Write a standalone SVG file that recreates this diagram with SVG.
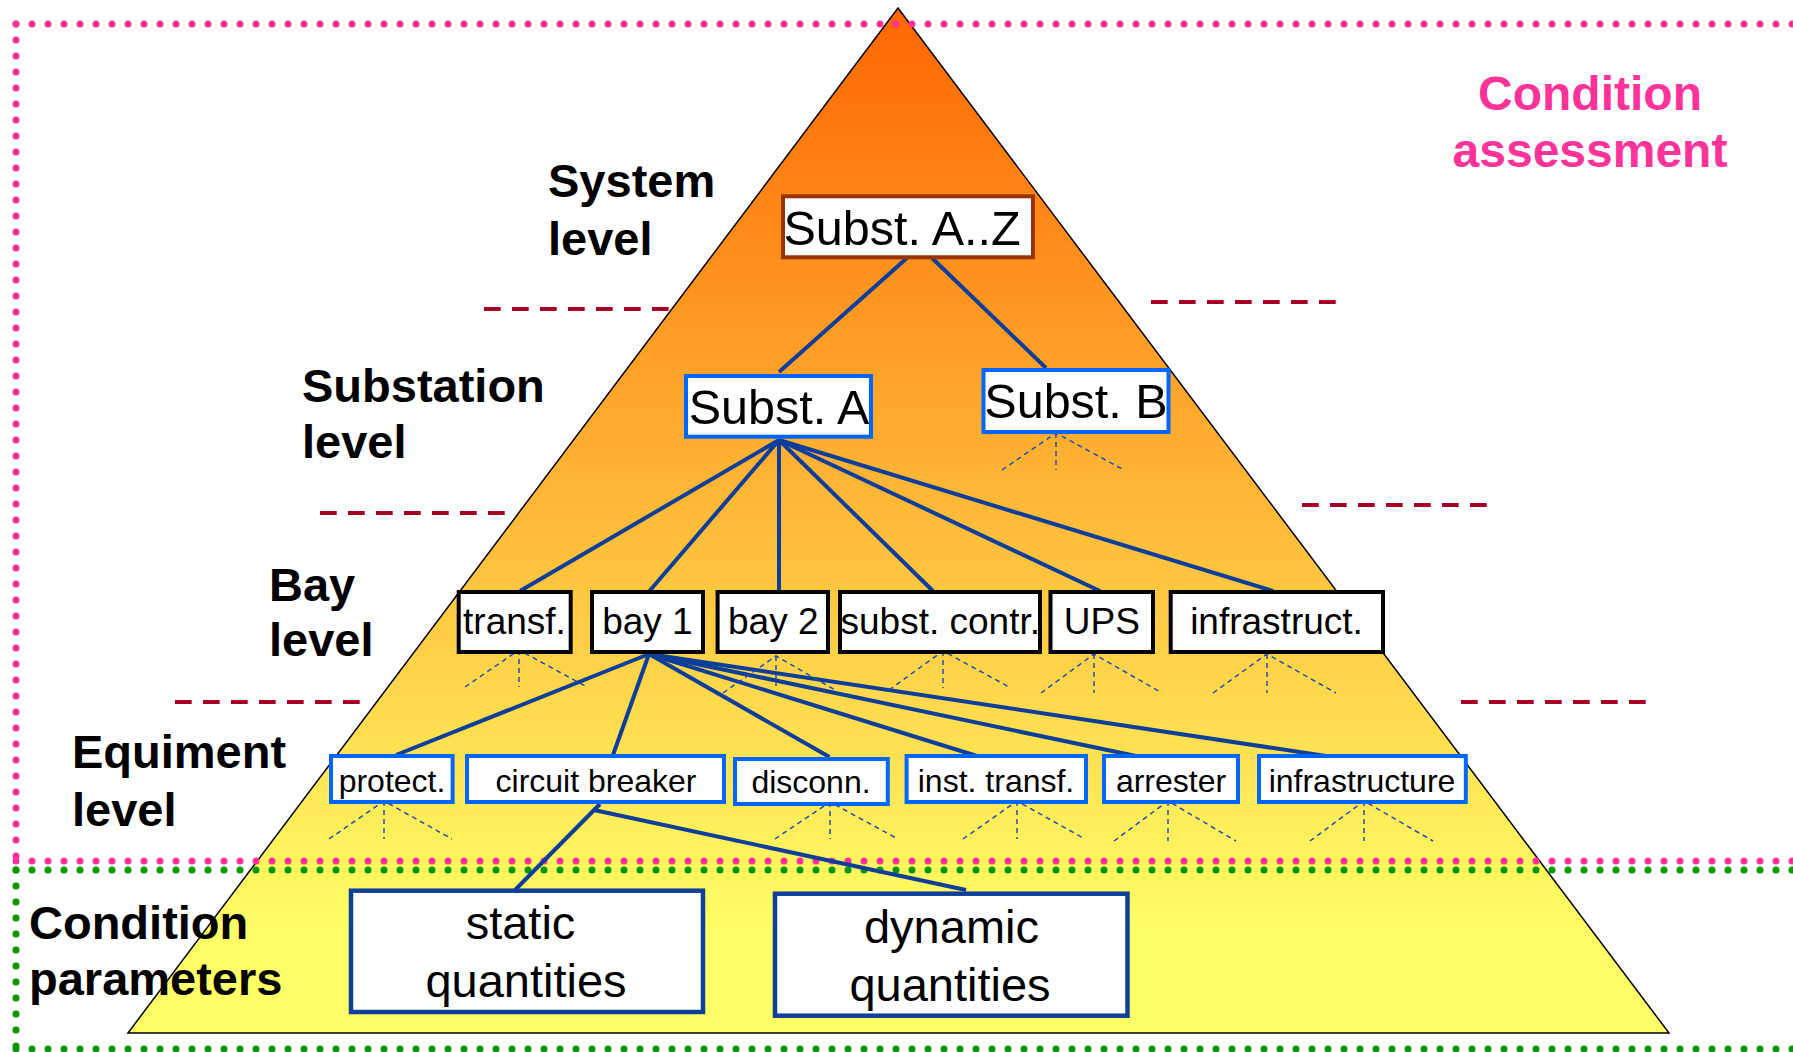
<svg xmlns="http://www.w3.org/2000/svg" width="1793" height="1052" viewBox="0 0 1793 1052">
<defs>
<linearGradient id="pyr" gradientUnits="userSpaceOnUse" x1="0" y1="8" x2="0" y2="1033">
<stop offset="0" stop-color="#FF6600"/>
<stop offset="0.9" stop-color="#FFFF66"/>
<stop offset="1" stop-color="#FFFF66"/>
</linearGradient>
<style>
.lvl{font-family:"Liberation Sans",Arial,sans-serif;font-weight:bold;font-size:47px;fill:#000}
.ca{font-family:"Liberation Sans",Arial,sans-serif;font-weight:bold;font-size:48px;fill:#FF3399;text-anchor:middle}
.t48{font-family:"Liberation Sans",Arial,sans-serif;font-size:48.5px;fill:#000;text-anchor:middle}
.t47{font-family:"Liberation Sans",Arial,sans-serif;font-size:47px;fill:#000;text-anchor:middle}
.t37{font-family:"Liberation Sans",Arial,sans-serif;font-size:37px;fill:#000;text-anchor:middle}
.t32{font-family:"Liberation Sans",Arial,sans-serif;font-size:32px;fill:#000;text-anchor:middle}
.sep{stroke:#A50026;stroke-width:4;stroke-dasharray:16.7 11.3;fill:none}
.pink{stroke:#FF3399;stroke-width:7;stroke-dasharray:0 16;stroke-linecap:round;fill:none}
.green{stroke:#009900;stroke-width:7;stroke-dasharray:0 16;stroke-linecap:round;fill:none}
.conn line{stroke:#0D3E99;stroke-width:4;stroke-linecap:butt}
.fan path{stroke:#1F4FB0;stroke-width:1.5;stroke-dasharray:5 4;fill:none}
.top{fill:#fff;stroke:#993300;stroke-width:4}
.sub{fill:#fff;stroke:#0066FF;stroke-width:4}
.bay{fill:#fff;stroke:#000;stroke-width:4}
.eq{fill:#fff;stroke:#0066FF;stroke-width:4}
.par{fill:#fff;stroke:#0F3F99;stroke-width:4.5}
</style>
</defs>
<rect width="1793" height="1052" fill="#fff"/>
<polygon points="898,8 1669,1033 128,1033" fill="url(#pyr)" stroke="#000" stroke-width="1.5"/>

<g id="separators">
<line class="sep" x1="484" y1="309" x2="669" y2="309"/>
<line class="sep" x1="1151" y1="302" x2="1336" y2="302"/>
<line class="sep" x1="320" y1="513" x2="505" y2="513"/>
<line class="sep" x1="1302" y1="505" x2="1487" y2="505"/>
<line class="sep" x1="175" y1="702" x2="360" y2="702"/>
<line class="sep" x1="1461" y1="702" x2="1646" y2="702"/>
</g>

<g id="condition-assessment-frame">
<line class="pink" x1="16" y1="24" x2="1800" y2="24"/>
<line class="pink" x1="16" y1="24" x2="16" y2="861"/>
<line class="pink" x1="16" y1="861" x2="1800" y2="861"/>
</g>
<g id="condition-parameters-frame">
<line class="green" x1="16" y1="870" x2="1800" y2="870"/>
<line class="green" x1="16" y1="870" x2="16" y2="1049"/>
<line class="green" x1="16" y1="1049" x2="1800" y2="1049"/>
</g>

<g id="labels">
<text class="lvl" x="548" y="197">System</text>
<text class="lvl" x="548" y="255">level</text>
<text class="lvl" x="302" y="402">Substation</text>
<text class="lvl" x="302" y="458">level</text>
<text class="lvl" x="269" y="601">Bay</text>
<text class="lvl" x="269" y="656">level</text>
<text class="lvl" x="72" y="768">Equiment</text>
<text class="lvl" x="72" y="826">level</text>
<text class="lvl" x="29" y="939">Condition</text>
<text class="lvl" x="29" y="995">parameters</text>
<text class="ca" x="1590" y="110">Condition</text>
<text class="ca" x="1590" y="167">assessment</text>
</g>

<g id="connectors" class="conn">
<line x1="907" y1="258" x2="779" y2="372"/>
<line x1="932" y1="258" x2="1046" y2="368"/>
<line x1="779" y1="440" x2="520" y2="591"/>
<line x1="779" y1="440" x2="649.5" y2="591"/>
<line x1="779" y1="440" x2="779" y2="591"/>
<line x1="779" y1="440" x2="933" y2="591"/>
<line x1="779" y1="440" x2="1100" y2="591"/>
<line x1="779" y1="440" x2="1273" y2="591"/>
<line x1="649" y1="654" x2="396" y2="755"/>
<line x1="649" y1="654" x2="613" y2="755"/>
<line x1="649" y1="654" x2="829.5" y2="757"/>
<line x1="649" y1="654" x2="977" y2="756"/>
<line x1="649" y1="654" x2="1136" y2="756"/>
<line x1="649" y1="654" x2="1326" y2="756"/>
<line x1="600" y1="804" x2="515" y2="890"/>
<line x1="594" y1="810" x2="966" y2="890"/>
</g>

<g id="sub-fans" class="fan">
<path d="M1002,470 L1056,433 L1124,470 M1056,433 V470"/>
<path d="M465,687 L519,650 L587,687 M519,650 V687"/>
<path d="M723,693 L776,656 L837,691 M776,656 V686"/>
<path d="M889,690 L943,651 L1011,688 M943,651 V688"/>
<path d="M1041,693 L1094,654 L1162,693 M1094,654 V693"/>
<path d="M1213,693 L1267,654 L1336,693 M1267,654 V693"/>
<path d="M329,839 L384,801 L452,839 M384,801 V839"/>
<path d="M775,839 L830,802 L898,839 M830,802 V839"/>
<path d="M963,839 L1017,801 L1085,839 M1017,801 V839"/>
<path d="M1114,841 L1168,801 L1236,841 M1168,801 V841"/>
<path d="M1310,841 L1364,801 L1433,841 M1364,801 V841"/>
</g>

<g id="node-subst-az"><rect class="top" x="783" y="196.3" width="250" height="61"/><text class="t48" x="902" y="245">Subst. A..Z</text></g>
<g id="node-subst-a"><rect class="sub" x="686" y="376" width="185" height="60.7"/><text class="t48" x="779" y="424">Subst. A</text></g>
<g id="node-subst-b"><rect class="sub" x="983.5" y="370" width="185" height="62"/><text class="t48" x="1076" y="418">Subst. B</text></g>

<g id="node-transf"><rect class="bay" x="458.7" y="592" width="112" height="60"/><text class="t37" x="514.5" y="634">transf.</text></g>
<g id="node-bay1"><rect class="bay" x="592" y="592" width="111" height="60"/><text class="t37" x="647.4" y="634">bay 1</text></g>
<g id="node-bay2"><rect class="bay" x="717.6" y="592" width="110.4" height="60"/><text class="t37" x="773.3" y="634">bay 2</text></g>
<g id="node-subst-contr"><rect class="bay" x="840" y="592" width="200" height="60"/><text class="t37" x="940.3" y="634">subst. contr.</text></g>
<g id="node-ups"><rect class="bay" x="1050.5" y="592" width="102.5" height="60"/><text class="t37" x="1101.8" y="634">UPS</text></g>
<g id="node-infrastruct"><rect class="bay" x="1170.7" y="592" width="212.3" height="60"/><text class="t37" x="1276.5" y="634">infrastruct.</text></g>

<g id="node-protect"><rect class="eq" x="331" y="756" width="121.6" height="46"/><text class="t32" x="392" y="792">protect.</text></g>
<g id="node-circuit-breaker"><rect class="eq" x="467" y="756" width="257" height="46"/><text class="t32" x="596" y="792">circuit breaker</text></g>
<g id="node-disconn"><rect class="eq" x="735" y="759" width="152.8" height="45"/><text class="t32" x="811" y="793">disconn.</text></g>
<g id="node-inst-transf"><rect class="eq" x="906.6" y="756" width="179.4" height="46"/><text class="t32" x="996" y="792">inst. transf.</text></g>
<g id="node-arrester"><rect class="eq" x="1104" y="756" width="134" height="46"/><text class="t32" x="1171" y="792">arrester</text></g>
<g id="node-infrastructure"><rect class="eq" x="1259" y="756" width="206.8" height="46"/><text class="t32" x="1362" y="792">infrastructure</text></g>

<g id="node-static"><rect class="par" x="351" y="890.7" width="352" height="121.3"/><text class="t47"><tspan x="520.5" y="939">static</tspan><tspan x="526" y="997">quantities</tspan></text></g>
<g id="node-dynamic"><rect class="par" x="775" y="893.7" width="352.5" height="122"/><text class="t47"><tspan x="951.5" y="943">dynamic</tspan><tspan x="950" y="1001">quantities</tspan></text></g>
</svg>
